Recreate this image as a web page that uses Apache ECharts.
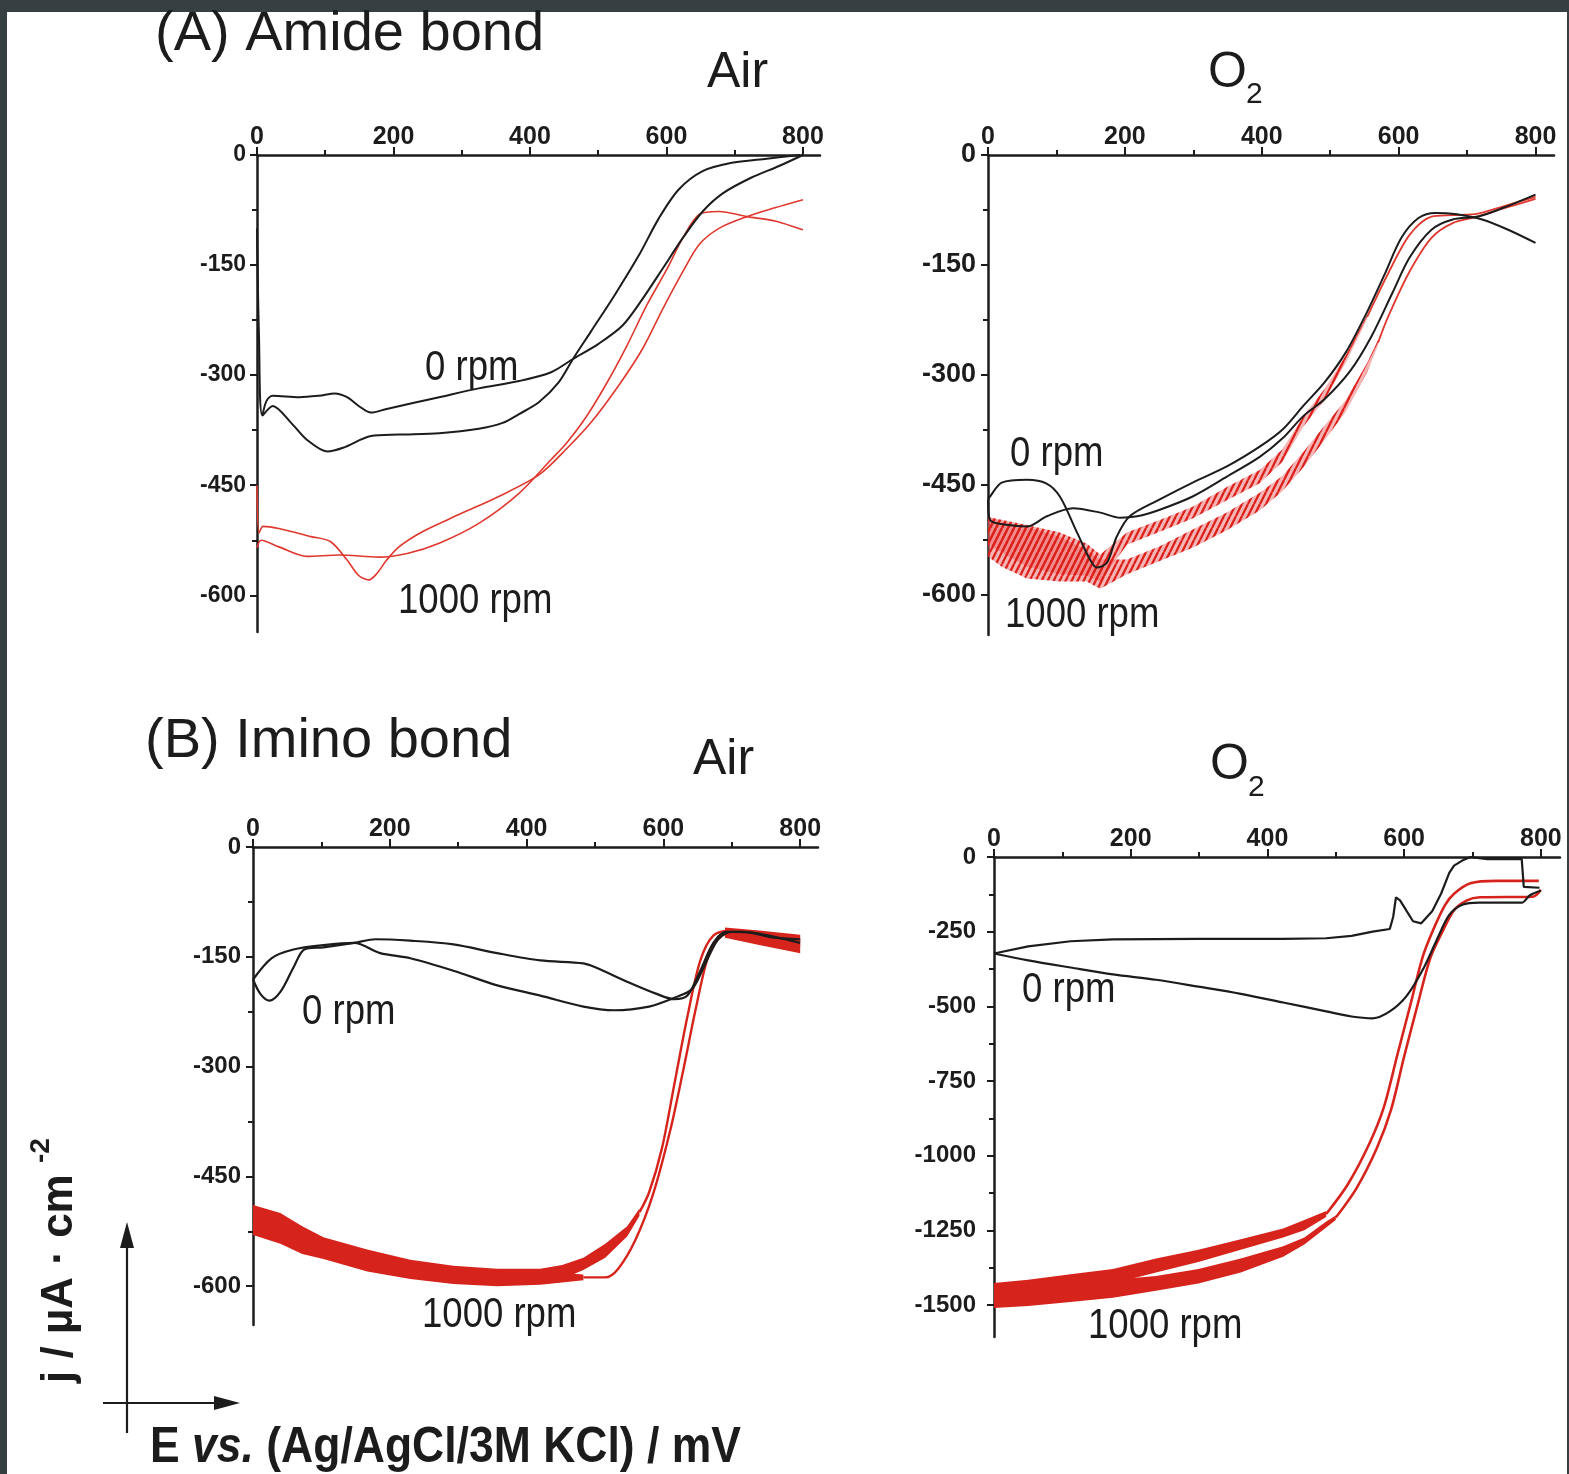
<!DOCTYPE html>
<html>
<head>
<meta charset="utf-8">
<title>Amide / Imino bond RDE voltammograms</title>
<script src="https://cdn.jsdelivr.net/npm/echarts@6/dist/echarts.min.js"></script>
<style>
  html, body { margin: 0; padding: 0; background: #363f42; }
  #paper { position: absolute; left: 7px; top: 12px; width: 1560px; height: 1462px; background: #fff; }
  #chart { position: absolute; left: 0; top: 0; width: 1569px; height: 1474px; }
</style>
</head>
<body>
<div id="paper"></div>
<div id="chart"></div>
<script>
var FONT = '"Liberation Sans", Arial, sans-serif';
var INK = '#1c1c1c';
var RED = '#e0382e';
var RED_DARK = '#d6241c';

// tick values
var xMajor = [0, 200, 400, 600, 800];
var xMinor = [100, 300, 500, 700];
var yMajor600 = [0, -150, -300, -450, -600];
var yMinor600 = [-75, -225, -375, -525];
var yMajor1500 = [0, -250, -500, -750, -1000, -1250, -1500];
var yMinor1500 = [-125, -375, -625, -875, -1125, -1375];

// (A) amide bond, air  [E mV, j uA/cm2]
var amideAirBlackLow = [[0,-100],[3,-250],[8,-355],[23,-342],[50,-365],[73,-388],[103,-404],[126,-399],[167,-383],[208,-381],[267,-379],[325,-373],[360,-365],[384,-353],[413,-337],[442,-310],[463,-278],[489,-241],[524,-191],[560,-136],[589,-86],[618,-47],[653,-22],[694,-11],[747,-5],[796,0]];
var amideAirBlackHigh = [[8,-355],[14,-335],[23,-328],[62,-330],[91,-328],[114,-325],[132,-330],[149,-342],[167,-351],[190,-346],[267,-330],[325,-318],[384,-308],[431,-296],[463,-278],[501,-257],[536,-232],[565,-196],[595,-154],[624,-113],[653,-77],[683,-52],[724,-31],[765,-15],[800,0]];
var amideAirRedWavy = [[0,-535],[6,-525],[32,-534],[73,-547],[120,-545],[179,-548],[220,-543],[267,-529],[325,-502],[384,-461],[431,-415],[454,-392],[483,-356],[513,-310],[542,-260],[571,-205],[601,-155],[624,-113],[648,-81],[677,-77],[718,-84],[759,-90],[800,-102]];
var amideAirRedDip = [[0,-450],[3,-515],[9,-506],[32,-509],[79,-520],[108,-527],[132,-552],[149,-573],[164,-579],[176,-570],[190,-552],[208,-534],[243,-513],[296,-490],[355,-465],[413,-436],[454,-400],[489,-365],[530,-314],[565,-264],[595,-209],[624,-159],[648,-122],[677,-100],[718,-84],[759,-72],[800,-61]];

// (A) amide bond, O2
var amideO2BlackDip = [[0,-470],[3,-466],[20,-447],[57,-443],[85,-448],[105,-466],[130,-515],[149,-552],[159,-563],[174,-556],[188,-521],[207,-493],[251,-470],[299,-447],[349,-425],[397,-398],[430,-375],[461,-342],[492,-310],[523,-269],[554,-214],[579,-164],[604,-113],[629,-86],[654,-79],[685,-81],[722,-88],[760,-102],[800,-120]];
var amideO2BlackFlat = [[0,-470],[3,-498],[30,-505],[57,-507],[86,-493],[124,-482],[164,-488],[193,-495],[218,-493],[251,-484],[299,-466],[349,-439],[397,-412],[430,-387],[461,-356],[492,-333],[529,-295],[560,-248],[591,-188],[616,-140],[648,-102],[679,-88],[716,-84],[753,-72],[800,-54]];
// oscillating red traces: [E, upper edge, lower edge]
var amideO2RedBandOuter = [[0,-494,-548],[20,-500,-562],[57,-507,-578],[105,-521,-582],[144,-539,-582],[164,-552,-592],[203,-552,-572],[251,-534,-554],[299,-511,-536],[349,-488,-512],[397,-461,-485],[430,-438,-459],[461,-405,-426],[492,-369,-389],[523,-334,-350],[554,-284,-296],[570,-252,-260]];
var amideO2RedBandInner = [[0,-494,-532],[57,-505,-562],[105,-515,-572],[144,-530,-574],[164,-545,-582],[203,-515,-532],[251,-498,-514],[299,-480,-496],[349,-453,-471],[397,-430,-448],[430,-402,-419],[461,-356,-370],[492,-319,-334],[523,-273,-283],[554,-218,-224]];
var amideO2RedOuter = [[570,-256],[585,-220],[616,-159],[648,-113],[679,-93],[716,-84],[753,-73],[800,-60]];
var amideO2RedInner = [[554,-221],[585,-161],[616,-109],[648,-84],[679,-82],[716,-80],[753,-70],[800,-57]];

// (B) imino bond, air
var iminoAirBlackDip = [[0,-181],[11,-201],[24,-210],[40,-198],[59,-165],[75,-140],[103,-137],[148,-131],[179,-126],[230,-128],[293,-133],[357,-145],[420,-155],[483,-159],[502,-165],[547,-184],[591,-201],[616,-208],[635,-203],[654,-169],[673,-131],[692,-116],[718,-116],[756,-123],[800,-126]];
var iminoAirBlackLoop = [[0,-181],[27,-152],[59,-140],[103,-134],[148,-131],[186,-145],[230,-152],[293,-169],[357,-189],[420,-203],[483,-218],[528,-223],[579,-218],[616,-206],[642,-194],[661,-160],[680,-126],[699,-116],[737,-118],[800,-131]];
var iminoAirRedBandInner = [[0,-489,-525],[40,-500,-536],[72,-518,-550],[103,-533,-558],[167,-550,-574],[230,-564,-585],[293,-572,-591],[357,-576,-594],[420,-576,-592],[452,-571,-590],[483,-561,-578],[515,-542,-561],[547,-518,-532],[565,-494,-504]];
var iminoAirRedBandOuter = [[0,-495,-530],[40,-508,-542],[72,-528,-556],[103,-540,-563],[167,-556,-580],[230,-570,-590],[293,-577,-597],[357,-581,-600],[420,-581,-598],[452,-582,-595],[483,-584,-592]];
var iminoAirRedBandTop = [[690,-110,-124],[740,-114,-134],[800,-120,-145]];
var iminoAirRedInner = [[565,-499],[579,-472],[598,-411],[616,-324],[635,-232],[654,-155],[673,-121],[699,-114],[737,-121],[800,-135]];
var iminoAirRedOuter = [[483,-588],[515,-588],[534,-576],[559,-537],[585,-474],[610,-387],[629,-305],[648,-218],[667,-145],[686,-121],[711,-116],[737,-119],[800,-128]];

// (B) imino bond, O2
var iminoO2BlackUpper = [[0,-323],[50,-299],[112,-282],[174,-276],[299,-274],[423,-274],[486,-272],[523,-264],[554,-250],[579,-241],[584,-200],[588,-135],[594,-145],[604,-182],[613,-215],[625,-222],[641,-182],[654,-123],[666,-53],[673,-29],[685,-12],[697,0],[710,-4],[722,-7],[772,-7],[775,-100],[798,-103]];
var iminoO2BlackLower = [[0,-323],[50,-346],[112,-370],[174,-393],[237,-411],[299,-434],[361,-458],[423,-487],[486,-517],[523,-534],[554,-540],[579,-517],[604,-464],[629,-370],[648,-276],[666,-194],[685,-160],[710,-153],[735,-153],[772,-153],[784,-128],[800,-112]];
var iminoO2RedBandInner = [[0,-1426,-1478],[50,-1415,-1466],[112,-1397,-1447],[174,-1379,-1428],[237,-1344,-1391],[299,-1315,-1356],[361,-1280,-1315],[423,-1244,-1274],[454,-1215,-1250],[486,-1185,-1205]];
var iminoO2RedBandOuter = [[0,-1450,-1510],[50,-1444,-1503],[112,-1426,-1490],[174,-1415,-1476],[237,-1403,-1452],[299,-1379,-1428],[361,-1344,-1391],[423,-1303,-1338],[454,-1274,-1297],[486,-1220,-1240],[500,-1200,-1215]];
var iminoO2RedInner = [[486,-1195],[517,-1098],[548,-965],[570,-840],[590,-663],[610,-487],[627,-335],[643,-241],[660,-160],[673,-123],[697,-88],[735,-80],[797,-80]];
var iminoO2RedOuter = [[500,-1207],[530,-1110],[560,-975],[581,-845],[600,-668],[620,-492],[638,-340],[656,-250],[673,-178],[692,-145],[711,-135],[788,-133],[800,-110]];

var panels = [
  { grid: { left: 257, top: 155, width: 563, height: 477 }, xMax: 825, yMin: -650, yMajor: yMajor600, yMinor: yMinor600, yFont: 23, yMargin: 11 },
  { grid: { left: 988, top: 155, width: 566, height: 480 }, xMax: 827, yMin: -655, yMajor: yMajor600, yMinor: yMinor600, yFont: 27, yMargin: 12 },
  { grid: { left: 253, top: 847, width: 565, height: 478 }, xMax: 826, yMin: -653, yMajor: yMajor600, yMinor: yMinor600, yFont: 24, yMargin: 12 },
  { grid: { left: 994, top: 857, width: 566, height: 480 }, xMax: 828, yMin: -1607, yMajor: yMajor1500, yMinor: yMinor1500, yFont: 24, yMargin: 18 }
];

function plain(v) { return String(v); }

var grids = [], xAxes = [], yAxes = [];
panels.forEach(function (p, i) {
  grids.push(Object.assign({ containLabel: false, outerBoundsMode: 'none' }, p.grid));
  xAxes.push({
    gridIndex: i, type: 'value', position: 'top', min: 0, max: p.xMax,
    axisLine: { onZero: false, lineStyle: { color: INK, width: 2.5 } },
    axisTick: { length: 8, customValues: xMajor, lineStyle: { color: INK, width: 2 } },
    axisLabel: { customValues: xMajor, formatter: plain, margin: 5, color: INK, fontSize: 25, fontWeight: 'bold', fontFamily: FONT },
    splitLine: { show: false }
  });
  xAxes.push({
    gridIndex: i, type: 'value', position: 'top', min: 0, max: p.xMax,
    axisLine: { show: false },
    axisTick: { length: 5, customValues: xMinor, lineStyle: { color: INK, width: 2 } },
    axisLabel: { show: false }, splitLine: { show: false }
  });
  yAxes.push({
    gridIndex: i, type: 'value', position: 'left', min: p.yMin, max: 0,
    axisLine: { onZero: false, lineStyle: { color: INK, width: 2.5 } },
    axisTick: { length: 7, customValues: p.yMajor, lineStyle: { color: INK, width: 2 } },
    axisLabel: { customValues: p.yMajor, formatter: plain, margin: p.yMargin, color: INK, fontSize: p.yFont, fontWeight: 'bold', fontFamily: FONT },
    splitLine: { show: false }
  });
  yAxes.push({
    gridIndex: i, type: 'value', position: 'left', min: p.yMin, max: 0,
    axisLine: { show: false },
    axisTick: { length: 5, customValues: p.yMinor, lineStyle: { color: INK, width: 2 } },
    axisLabel: { show: false }, splitLine: { show: false }
  });
});

function curve(p, data, color, width, smooth) {
  return {
    type: 'line', xAxisIndex: 2 * p, yAxisIndex: 2 * p, data: data,
    showSymbol: false, symbol: 'none', smooth: smooth === undefined ? 0.3 : smooth,
    lineStyle: { color: color, width: width }, z: color === INK ? 4 : 3, silent: true
  };
}

// filled band between upper and lower edge of a noisy trace
function band(p, rows, fill) {
  return {
    type: 'custom', xAxisIndex: 2 * p, yAxisIndex: 2 * p, data: rows, z: 2, silent: true,
    renderItem: function (params, api) {
      if (params.dataIndex !== 0) return null;
      var top = [], bot = [];
      rows.forEach(function (r) {
        top.push(api.coord([r[0], r[1]]));
        bot.unshift(api.coord([r[0], r[2]]));
      });
      return { type: 'polygon', shape: { points: top.concat(bot) }, style: { fill: fill } };
    }
  };
}

// hatch that imitates the saw-tooth oscillation of the O2 trace in (A)
var hatch = document.createElement('canvas');
hatch.width = 6; hatch.height = 12;
var hc = hatch.getContext('2d');
hc.fillStyle = 'rgba(235,90,90,0.45)';
hc.fillRect(0, 0, 6, 12);
hc.strokeStyle = '#dc1f1a';
hc.lineWidth = 2.2;
hc.beginPath(); hc.moveTo(0, 12); hc.lineTo(6, 0); hc.stroke();
hc.beginPath(); hc.moveTo(-1, 2); hc.lineTo(0, 0); hc.stroke();
hc.beginPath(); hc.moveTo(6, 12); hc.lineTo(7, 10); hc.stroke();
var hatchFill = { image: hatch, repeat: 'repeat' };

var series = [
  curve(0, amideAirRedWavy, RED, 1.6),
  curve(0, amideAirRedDip, RED, 1.6),
  curve(0, amideAirBlackLow, INK, 2),
  curve(0, amideAirBlackHigh, INK, 2),

  band(1, amideO2RedBandOuter, hatchFill),
  band(1, amideO2RedBandInner, hatchFill),
  curve(1, amideO2RedOuter, RED, 1.8),
  curve(1, amideO2RedInner, RED, 1.8),
  curve(1, amideO2BlackDip, INK, 2),
  curve(1, amideO2BlackFlat, INK, 2),

  band(2, iminoAirRedBandOuter, RED_DARK),
  band(2, iminoAirRedBandInner, RED_DARK),
  band(2, iminoAirRedBandTop, RED_DARK),
  curve(2, iminoAirRedInner, RED_DARK, 2.4),
  curve(2, iminoAirRedOuter, RED_DARK, 2.4),
  curve(2, iminoAirBlackDip, INK, 2.2),
  curve(2, iminoAirBlackLoop, INK, 2.2),

  band(3, iminoO2RedBandOuter, RED_DARK),
  band(3, iminoO2RedBandInner, RED_DARK),
  curve(3, iminoO2RedInner, RED_DARK, 2.6),
  curve(3, iminoO2RedOuter, RED_DARK, 2.6),
  curve(3, iminoO2BlackUpper, INK, 2.2, false),
  curve(3, iminoO2BlackLower, INK, 2.2)
];

function txt(x, y, s, size, opts) {
  var o = opts || {};
  return {
    type: 'text', x: x, y: y, rotation: o.rotation || 0, scaleX: o.scaleX || 1, z: 10, silent: true,
    style: {
      text: s, fill: INK, fontSize: size, fontFamily: FONT,
      fontWeight: o.bold ? 'bold' : 'normal', align: 'left', verticalAlign: 'middle'
    }
  };
}

var graphics = [
  txt(155, 35, '(A) Amide bond', 56),
  txt(707, 73, 'Air', 50),
  txt(1208, 73, 'O', 50),
  txt(1246, 95, '2', 30),
  txt(145, 742, '(B) Imino bond', 56),
  txt(693, 760, 'Air', 50),
  txt(1210, 765, 'O', 50),
  txt(1248, 788, '2', 30),

  txt(425, 368, '0 rpm', 42, { scaleX: 0.87 }),
  txt(398, 601, '1000 rpm', 42, { scaleX: 0.87 }),
  txt(1010, 454, '0 rpm', 42, { scaleX: 0.87 }),
  txt(1005, 615, '1000 rpm', 42, { scaleX: 0.87 }),
  txt(302, 1012, '0 rpm', 42, { scaleX: 0.87 }),
  txt(422, 1315, '1000 rpm', 42, { scaleX: 0.87 }),
  txt(1022, 990, '0 rpm', 42, { scaleX: 0.87 }),
  txt(1088, 1326, '1000 rpm', 42, { scaleX: 0.87 }),

  // axis key in the lower left corner
  { type: 'line', z: 10, silent: true, shape: { x1: 127, y1: 1433, x2: 127, y2: 1240 }, style: { stroke: INK, lineWidth: 2.2 } },
  { type: 'polygon', z: 10, silent: true, shape: { points: [[127, 1222], [120, 1248], [134, 1248]] }, style: { fill: INK } },
  { type: 'line', z: 10, silent: true, shape: { x1: 103, y1: 1403, x2: 220, y2: 1403 }, style: { stroke: INK, lineWidth: 2.2 } },
  { type: 'polygon', z: 10, silent: true, shape: { points: [[240, 1403], [214, 1396], [214, 1410]] }, style: { fill: INK } },

  txt(60, 1383, 'j / \u00b5A \u00b7 cm', 44, { bold: true, rotation: Math.PI / 2 }),
  txt(41, 1163, '-2', 28, { bold: true, rotation: Math.PI / 2 }),
  {
    type: 'text', x: 150, y: 1448, scaleX: 0.89, z: 10, silent: true,
    style: {
      text: '{n|E }{i|vs.}{n| (Ag/AgCl/3M KCl) / mV}', align: 'left', verticalAlign: 'middle',
      rich: {
        n: { fontSize: 50, fontWeight: 'bold', fontFamily: FONT, fill: INK },
        i: { fontSize: 50, fontWeight: 'bold', fontStyle: 'italic', fontFamily: FONT, fill: INK }
      }
    }
  }
];

var chart = echarts.init(document.getElementById('chart'), null, { renderer: 'canvas' });
chart.setOption({
  animation: false,
  backgroundColor: 'transparent',
  grid: grids,
  xAxis: xAxes,
  yAxis: yAxes,
  series: series,
  graphic: graphics
});
</script>
</body>
</html>
